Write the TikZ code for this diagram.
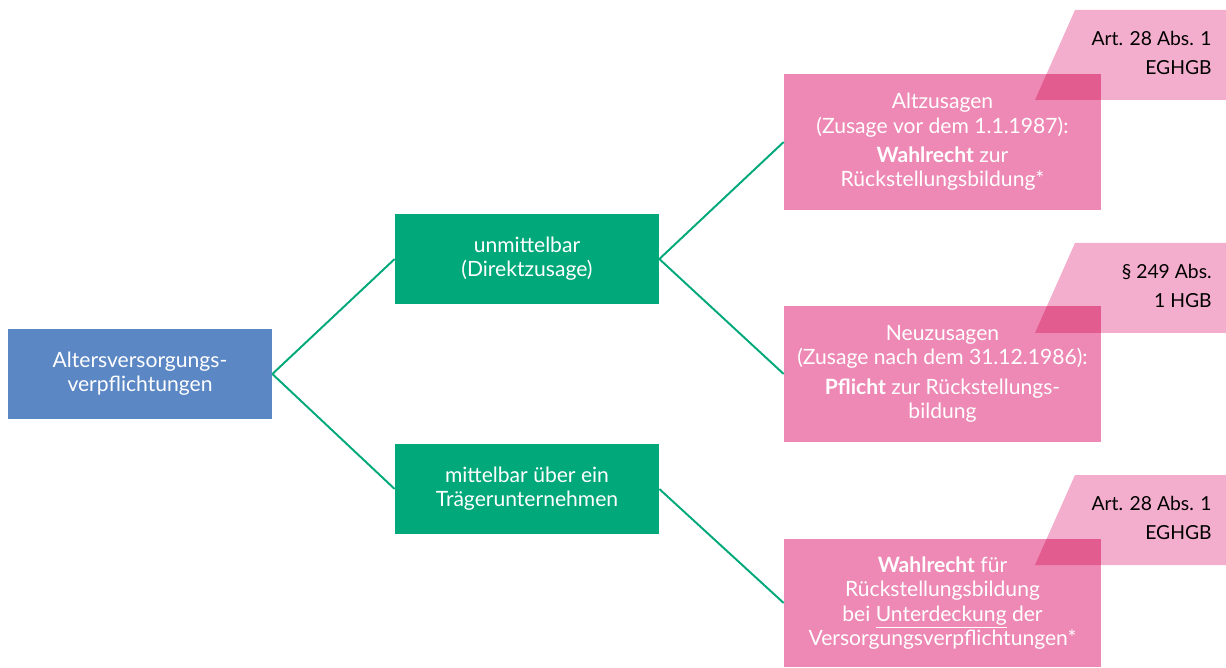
\documentclass[tikz,border=0pt]{standalone}
\usepackage{fontspec}
\setmainfont{Lato}
\usepackage{tikz}

\definecolor{bluebox}{RGB}{91,135,197}
\definecolor{greenbox}{RGB}{0,168,122}
\definecolor{pinkbox}{RGB}{238,136,180}
\definecolor{pinktag}{RGB}{244,174,205}

\begin{document}
\begin{tikzpicture}[x=0.02cm,y=-0.02cm,
  box/.style={inner sep=0pt,align=center,text=white,font=\fontsize{12}{13.8}\selectfont},
  rootbox/.style={box,fill=bluebox,minimum width=5.28cm,minimum height=1.8cm},
  waybox/.style={box,fill=greenbox,minimum width=5.28cm,minimum height=1.8cm},
  rulebox/.style={box,fill=pinkbox,minimum width=6.34cm,minimum height=2.72cm},
  tagtext/.style={inner sep=0pt,align=right,anchor=east,font=\fontsize{11}{17}\selectfont},
  link/.style={draw=greenbox,line width=1.1pt}]
\useasboundingbox (0,0) rectangle (1226,668);
{
% boxes
\node[rootbox] (root) at (140,374) {Altersversorgungs-\\verpflichtungen};
\node[waybox] (direct) at (527,259) {unmittelbar\\(Direktzusage)};
\node[waybox] (indirect) at (527,489) {mittelbar über ein\\Trägerunternehmen};
\node[rulebox] (old) at (942.5,142) {Altzusagen\\(Zusage vor dem 1.1.1987):\\[3pt]\textbf{Wahlrecht} zur\\Rückstellungsbildung*};
\node[rulebox] (new) at (942.5,374) {Neuzusagen\\(Zusage nach dem 31.12.1986):\\[3pt]\textbf{Pflicht} zur Rückstellungs-\\bildung};
\node[rulebox,minimum height=2.56cm] (gap) at (942.5,603) {\textbf{Wahlrecht} für\\Rückstellungsbildung\\bei \underline{Unterdeckung} der\\Versorgungsverpflichtungen*};
% tags
\foreach \y/\la/\lb [count=\i] in {10/Art. 28 Abs. 1/EGHGB,243/\S\ 249 Abs./1 HGB,475/Art. 28 Abs. 1/EGHGB}{
\fill[pinktag,blend mode=multiply] (1075,\y) -- (1226,\y) -- (1226,\y+90) -- (1035,\y+90) -- cycle;
\node[tagtext] (tag\i) at (1212,\y+43) {\la\\\lb};
}
% links
\draw[link] (root.east) -- (direct.west);
\draw[link] (root.east) -- (indirect.west);
\draw[link] (direct.east) -- (old.west);
\draw[link] (direct.east) -- (new.west);
\draw[link] (indirect.east) -- (gap.west);
}
\end{tikzpicture}
\end{document}
